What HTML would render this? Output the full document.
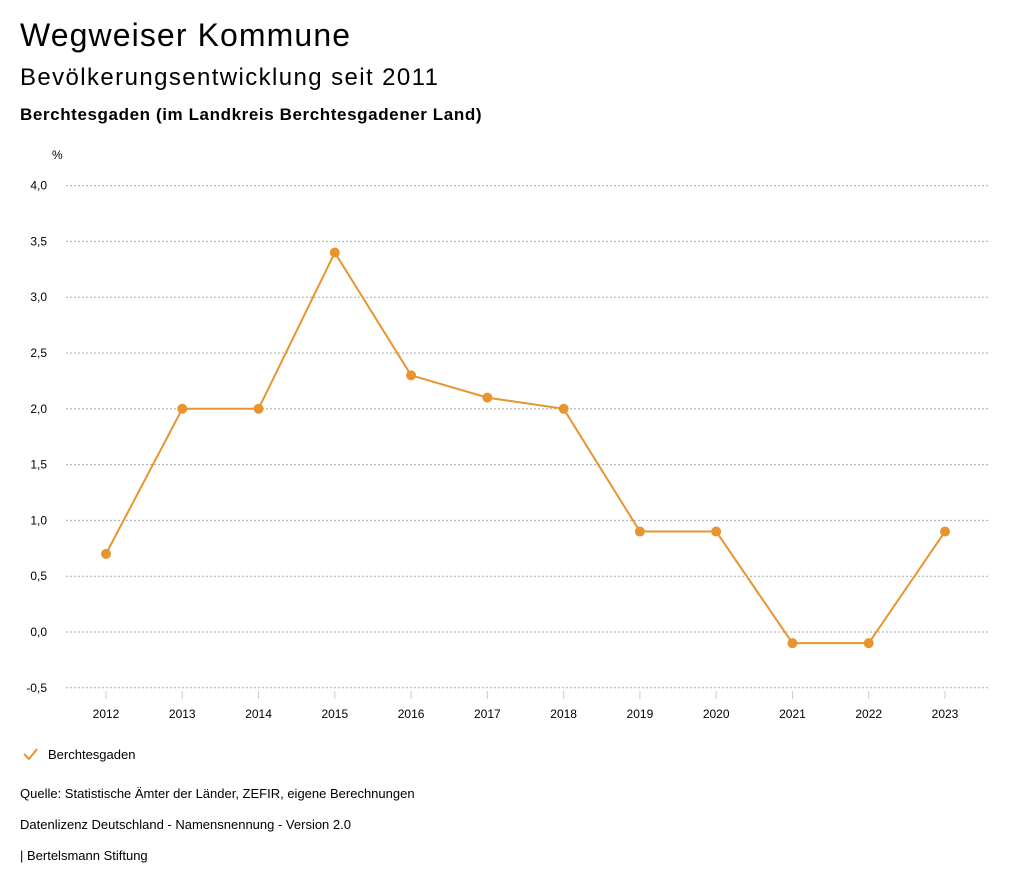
<!DOCTYPE html>
<html><head><meta charset="utf-8">
<style>
body{margin:0;width:1024px;height:888px;background:#fff;font-family:"Liberation Sans",sans-serif;color:#000;position:relative;overflow:hidden}
.t{position:absolute;left:20px;white-space:nowrap}
</style></head><body>
<div class="t" style="top:17px;font-size:32px;letter-spacing:1.1px">Wegweiser Kommune</div>
<div class="t" style="top:64px;font-size:24px;letter-spacing:1.4px">Bevölkerungsentwicklung seit 2011</div>
<div class="t" style="top:105px;font-size:17px;font-weight:bold;letter-spacing:0.6px">Berchtesgaden (im Landkreis Berchtesgadener Land)</div>
<svg id="chart" width="1024" height="888" style="position:absolute;left:0;top:0" font-family="Liberation Sans, sans-serif"></svg>
<div class="t" style="top:786px;font-size:13px">Quelle: Statistische Ämter der Länder, ZEFIR, eigene Berechnungen</div>
<div class="t" style="top:817px;font-size:13px">Datenlizenz Deutschland - Namensnennung - Version 2.0</div>
<div class="t" style="top:848px;font-size:13px">| Bertelsmann Stiftung</div>
<script>
const years=["2012","2013","2014","2015","2016","2017","2018","2019","2020","2021","2022","2023"];
const values=[0.7,2.0,2.0,3.4,2.3,2.1,2.0,0.9,0.9,-0.1,-0.1,0.9];
const yTicks=[-0.5,0,0.5,1,1.5,2,2.5,3,3.5,4];
const svg=document.getElementById('chart');
const NS='http://www.w3.org/2000/svg';
const C='#e8952f';
function x(i){return 106+i*(945-106)/(years.length-1);}
function y(v){return 632-v*111.6;}
function mk(t,a,p){const e=document.createElementNS(NS,t);for(const k in a)e.setAttribute(k,a[k]);(p||svg).appendChild(e);return e;}
const u=mk('text',{x:52,y:159,'font-size':12});u.textContent='%';


yTicks.forEach(v=>{
 const g=mk('line',{x1:66,x2:990,y1:y(v),y2:y(v),stroke:'#aaa','stroke-dasharray':'2,2','stroke-width':1});
 
 
 const t=mk('text',{x:47,y:y(v)+4,'text-anchor':'end','font-size':12});
 t.textContent=v.toFixed(1).replace('.',',');
 
 
});
years.forEach((yr,i)=>{
 const tk=mk('line',{x1:x(i),x2:x(i),y1:691,y2:699,stroke:'#ccc'});
 
 
 const t=mk('text',{x:x(i),y:718,'text-anchor':'middle','font-size':12});
 t.textContent=yr;
 
 
});
const line=mk('polyline',{points:values.map((v,i)=>x(i)+','+y(v)).join(' '),fill:'none',stroke:C,'stroke-width':2});


values.forEach((v,i)=>{
 const c=mk('circle',{cx:x(i),cy:y(v),r:5,fill:C});
 
 
});
const chk=mk('polyline',{points:'24,754 29,759 37,749',fill:'none',stroke:C,'stroke-width':2});


const lt=mk('text',{x:48,y:759,'font-size':13});
lt.textContent='Berchtesgaden';


</script>
</body></html>
